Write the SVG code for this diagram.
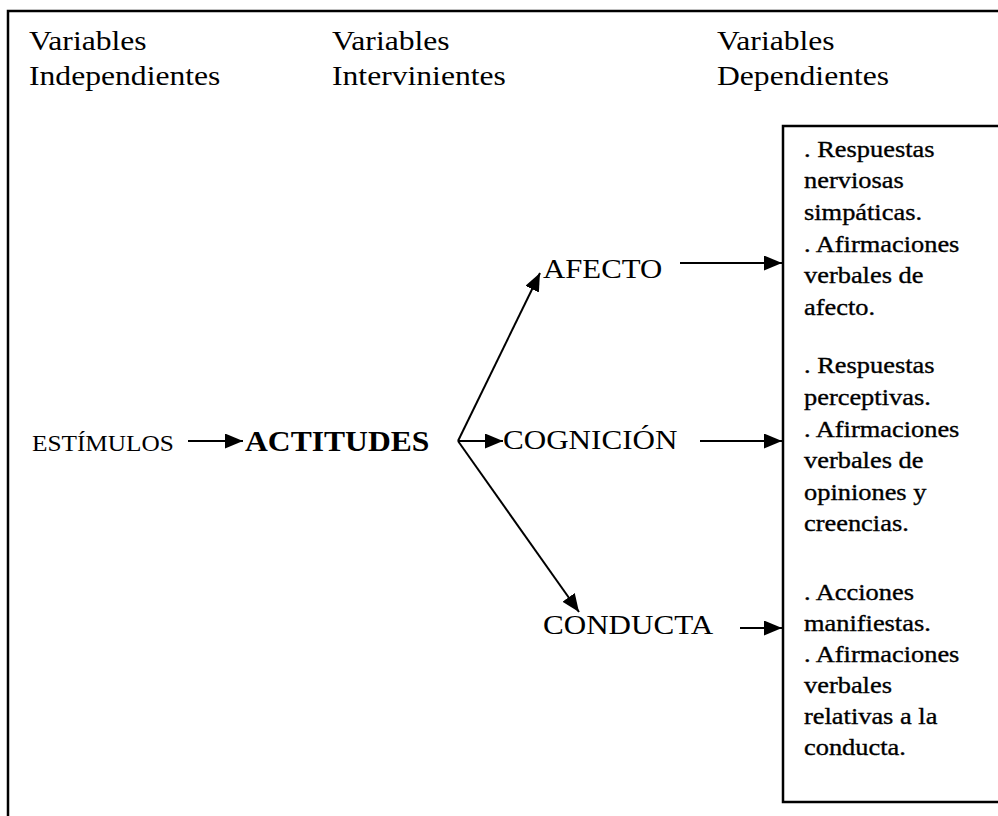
<svg xmlns="http://www.w3.org/2000/svg" width="998" height="816" viewBox="0 0 998 816">
  <style>
    .frame { fill: none; stroke: #000; stroke-width: 2.5; }
    .serif { font-family: "Liberation Serif", "Times New Roman", serif; fill: #000; }
    .head { font-size: 28px; }
    .node { font-size: 28px; }
    .small { font-size: 23px; }
    .bold { font-size: 29px; font-weight: bold; }
    .item { font-size: 24px; stroke: #000; stroke-width: 0.35; }
    .edge { stroke: #000; stroke-width: 2; fill: none; marker-end: url(#arrow); }
  </style>
  <defs>
    <marker id="arrow" markerUnits="userSpaceOnUse" markerWidth="19" markerHeight="16" refX="18" refY="7.5" orient="auto">
      <path d="M0,0 L18,7.5 L0,15 z" fill="#000"/>
    </marker>
  </defs>

  <rect width="998" height="816" fill="#fff"/>

  <!-- outer frame (runs past the right and bottom edges) -->
  <rect class="frame" x="8" y="11" width="1010" height="830"/>

  <!-- column headings -->
  <g id="head-independientes" class="serif head">
    <text transform="translate(29,50) scale(1.13,1)">Variables</text>
    <text transform="translate(29,85) scale(1.13,1)">Independientes</text>
  </g>
  <g id="head-intervinientes" class="serif head">
    <text transform="translate(332,50) scale(1.13,1)">Variables</text>
    <text transform="translate(332,85) scale(1.13,1)">Intervinientes</text>
  </g>
  <g id="head-dependientes" class="serif head">
    <text transform="translate(717,50) scale(1.13,1)">Variables</text>
    <text transform="translate(717,85) scale(1.13,1)">Dependientes</text>
  </g>

  <!-- nodes -->
  <g id="estimulos" class="serif small">
    <text transform="translate(32,451) scale(1.1,1)">ESTÍMULOS</text>
  </g>
  <g id="actitudes" class="serif bold">
    <text transform="translate(245,451) scale(1.09,1)">ACTITUDES</text>
  </g>
  <g id="afecto" class="serif node">
    <text transform="translate(543,278) scale(1.1,1)">AFECTO</text>
  </g>
  <g id="cognicion" class="serif node">
    <text transform="translate(503,449) scale(1.11,1)">COGNICIÓN</text>
  </g>
  <g id="conducta" class="serif node">
    <text transform="translate(543,634) scale(1.11,1)">CONDUCTA</text>
  </g>

  <!-- dependent variables box (runs past the right edge) -->
  <g id="dependientes">
    <rect class="frame" x="783" y="126" width="240" height="676" stroke-width="2"/>
    <g class="serif item">
      <text transform="translate(804,157) scale(1.1,1)">. Respuestas</text>
      <text transform="translate(804,188) scale(1.1,1)">nerviosas</text>
      <text transform="translate(804,220) scale(1.1,1)">simpáticas.</text>
      <text transform="translate(804,252) scale(1.1,1)">. Afirmaciones</text>
      <text transform="translate(804,283) scale(1.1,1)">verbales de</text>
      <text transform="translate(804,315) scale(1.1,1)">afecto.</text>

      <text transform="translate(804,373) scale(1.1,1)">. Respuestas</text>
      <text transform="translate(804,405) scale(1.1,1)">perceptivas.</text>
      <text transform="translate(804,437) scale(1.1,1)">. Afirmaciones</text>
      <text transform="translate(804,468) scale(1.1,1)">verbales de</text>
      <text transform="translate(804,500) scale(1.1,1)">opiniones y</text>
      <text transform="translate(804,531) scale(1.1,1)">creencias.</text>

      <text transform="translate(804,600) scale(1.1,1)">. Acciones</text>
      <text transform="translate(804,631) scale(1.1,1)">manifiestas.</text>
      <text transform="translate(804,662) scale(1.1,1)">. Afirmaciones</text>
      <text transform="translate(804,693) scale(1.1,1)">verbales</text>
      <text transform="translate(804,724) scale(1.1,1)">relativas a la</text>
      <text transform="translate(804,755) scale(1.1,1)">conducta.</text>
    </g>
  </g>

  <!-- connectors -->
  <g id="connectors">
    <line class="edge" x1="188" y1="441" x2="243" y2="441"/>
    <line class="edge" x1="458" y1="441" x2="540" y2="273"/>
    <line class="edge" x1="458" y1="441" x2="503" y2="441"/>
    <line class="edge" x1="458" y1="441" x2="579" y2="612"/>
    <line class="edge" x1="680" y1="263" x2="782" y2="263"/>
    <line class="edge" x1="700" y1="441" x2="782" y2="441"/>
    <line class="edge" x1="740" y1="628" x2="782" y2="628"/>
  </g>
</svg>
